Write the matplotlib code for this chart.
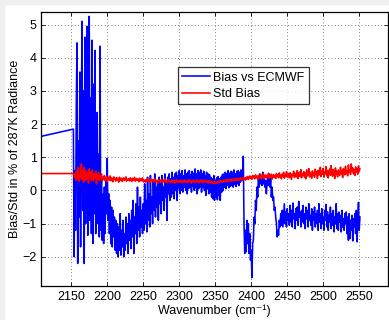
import numpy as np
import matplotlib
matplotlib.use("Agg")
import matplotlib.pyplot as plt
from matplotlib.patches import Rectangle

plt.rcParams["font.family"] = ["Liberation Sans", "DejaVu Sans"]

# leading point (left of the measured band), then 1 cm-1 grid 2153..2551
wn_start = 2108
bias_start = 1.63
std_start = 0.51
wn = np.arange(2153, 2552)

bias = [
    1.85, -2.0, 0.6, -1.2, 2.5, 4.45, -2.2, 1.5, -0.8, 3.57,
    -1.7, 2.2, 5.1, -0.6, 3.0, -2.2, 4.62, -1.0, 3.4, 4.95,
    -1.35, 3.8, 5.25, -0.9, 2.8, -1.3, 4.53, -1.6, 3.2, -0.7,
    4.22, -1.3, 1.3, 2.35, -1.0, 1.1, -1.4, 4.35, -1.2, 0.4,
    -1.5, -0.1, -1.6, 0.1, -1.3, 0.3, -0.7, 0.97, -0.9, -0.1,
    -1.3, -0.3, -1.6, -0.5, -1.7, -0.6, -1.4, -0.8, -1.8, -0.9,
    -1.9, -1.0, -2.0, -1.1, -1.8, -0.7, -1.95, -1.2, -1.7, -0.9,
    -2.0, -1.3, -1.8, -0.8, -1.6, -1.0, -1.9, -0.7, -1.5, -0.9,
    -1.75, -0.6, -1.4, -0.3, -1.9, -0.8, -1.3, -0.4, -1.6, 0.1,
    -1.2, -0.5, -1.4, -0.2, -1.1, -0.6, -1.3, -0.4, -1.2, 0.2,
    -1.0, -0.3, -1.25, 0.4, -0.9, -0.1, -1.1, 0.45, -0.7, -0.2,
    -1.0, 0.3, -0.6, 0.5, -0.8, 0.1, -0.5, 0.3, -0.9, 0.4,
    -0.4, 0.2, -0.7, 0.45, -0.3, 0.1, -0.6, 0.5, -0.2, 0.3,
    -0.9, 0.4, -0.1, 0.5, -0.3, 0.35, -0.2, 0.55, -0.1, 0.4,
    -0.25, 0.5, 0.0, 0.55, -0.3, 0.45, 0.05, 0.6, -0.1, 0.5,
    0.0, 0.6, -0.05, 0.45, 0.1, 0.62, 0.0, 0.5, -0.1, 0.55,
    0.05, 0.6, 0.1, 0.48, -0.05, 0.58, 0.12, 0.52, 0.0, 0.65,
    0.08, 0.5, -0.1, 0.6, 0.05, 0.55, 0.1, 0.62, -0.05, 0.5,
    0.1, 0.58, 0.0, 0.45, -0.15, 0.55, 0.05, 0.5, -0.1, 0.48,
    -0.05, 0.4, -0.2, 0.35, -0.25, 0.45, -0.3, 0.3, -0.2, 0.38,
    -0.28, 0.42, -0.15, 0.35, -0.3, 0.4, -0.05, 0.48, 0.0, 0.5,
    0.1, 0.55, 0.05, 0.5, 0.15, 0.6, 0.08, 0.52, 0.12, 0.58,
    0.15, 0.55, 0.1, 0.62, 0.18, 0.5, 0.12, 0.58, 0.2, 0.6,
    0.15, 0.55, 0.25, 0.62, 0.3, 0.5, 1.03, -1.0, -1.9, -1.2,
    -1.85, -0.9, -1.6, -1.0, -1.9, -1.3, -2.1, -1.8, -2.63, -1.6,
    -1.5, -0.8, -1.0, -0.3, -0.6, 0.1, -0.2, 0.4, 0.1, 0.5,
    0.2, 0.45, 0.15, 0.55, 0.2, 0.4, 0.1, 0.3, -0.1, 0.2,
    0.45, 0.15, 0.5, 0.1, 0.35, -0.2, 0.1, -0.3, -0.2, -0.6,
    -0.5, -0.8, -1.0, -1.4, -1.2, -1.35, -0.9, -1.1, -0.7, -1.05,
    -0.6, -1.1, -0.75, -0.4, -1.0, -0.65, -1.1, -0.55, -0.9, -0.7,
    -1.05, -0.45, -0.95, -0.6, -1.1, -0.38, -0.85, -0.7, -1.15, -0.55,
    -0.9, -0.5, -1.05, -0.33, -0.8, -0.65, -1.1, -0.6, -0.95, -0.45,
    -1.0, -0.7, -1.15, -0.5, -0.85, -0.6, -1.1, -0.4, -0.9, -0.75,
    -1.05, -0.55, -1.2, -0.65, -0.9, -0.5, -1.1, -0.7, -1.0, -0.6,
    -1.2, -0.4, -0.95, -0.7, -1.15, -0.55, -1.0, -0.8, -1.2, -0.6,
    -0.9, -0.42, -1.1, -0.65, -1.2, -0.75, -0.95, -0.5, -1.15, -0.7,
    -1.05, -0.6, -1.25, -0.8, -1.0, -0.4, -1.15, -0.7, -1.2, -0.65,
    -0.95, -0.75, -1.25, -0.6, -1.1, -0.85, -1.2, -0.7, -1.0, -0.65,
    -1.3, -0.8, -1.5, -0.7, -1.45, -0.9, -1.2, -0.75, -1.52, -0.85,
    -1.1, -0.7, -1.3, -0.6, -1.55, -0.9, -0.36, -1.2, -0.8,
]

std_bias = [
    0.51, 0.45, 0.38, 0.55, 0.30, 0.62, 0.35, 0.70, 0.28, 0.48,
    0.40, 0.80, 0.33, 0.58, 0.25, 0.70, 0.42, 0.30, 0.60, 0.36,
    0.52, 0.22, 0.65, 0.40, 0.55, 0.30, 0.62, 0.45, 0.28, 0.50,
    0.38, 0.58, 0.20, 0.46, 0.35, 0.55, 0.30, 0.44, 0.36, 0.50,
    0.28, 0.40, 0.33, 0.45, 0.30, 0.38, 0.42, 0.27, 0.36, 0.40,
    0.31, 0.44, 0.29, 0.38, 0.35, 0.26, 0.41, 0.33, 0.37, 0.28,
    0.39, 0.32, 0.36, 0.25, 0.40, 0.34, 0.30, 0.37, 0.27, 0.35,
    0.38, 0.30, 0.33, 0.41, 0.28, 0.34, 0.31, 0.36, 0.29, 0.38,
    0.32, 0.27, 0.37, 0.30, 0.35, 0.40, 0.28, 0.33, 0.36, 0.30,
    0.34, 0.26, 0.37, 0.31, 0.29, 0.35, 0.38, 0.27, 0.32, 0.30,
    0.25, 0.33, 0.29, 0.36, 0.27, 0.31, 0.24, 0.34, 0.28, 0.30,
    0.33, 0.26, 0.29, 0.35, 0.25, 0.31, 0.28, 0.22, 0.32, 0.27,
    0.30, 0.25, 0.33, 0.28, 0.24, 0.31, 0.27, 0.34, 0.26, 0.29,
    0.23, 0.30, 0.27, 0.32, 0.25, 0.28, 0.31, 0.24, 0.29, 0.26,
    0.30, 0.22, 0.28, 0.33, 0.25, 0.27, 0.30, 0.24, 0.29, 0.26,
    0.31, 0.23, 0.28, 0.26, 0.32, 0.25, 0.29, 0.27, 0.24, 0.30,
    0.26, 0.33, 0.25, 0.28, 0.22, 0.30, 0.27, 0.31, 0.24, 0.28,
    0.29, 0.25, 0.32, 0.27, 0.23, 0.30, 0.26, 0.29, 0.33, 0.25,
    0.28, 0.24, 0.30, 0.27, 0.31, 0.25, 0.29, 0.22, 0.27, 0.30,
    0.25, 0.28, 0.23, 0.26, 0.20, 0.24, 0.27, 0.21, 0.25, 0.22,
    0.26, 0.23, 0.28, 0.24, 0.30, 0.26, 0.29, 0.25, 0.31, 0.27,
    0.30, 0.26, 0.33, 0.28, 0.31, 0.27, 0.34, 0.29, 0.32, 0.28,
    0.35, 0.30, 0.33, 0.29, 0.36, 0.31, 0.34, 0.30, 0.37, 0.32,
    0.35, 0.31, 0.38, 0.33, 0.36, 0.32, 0.39, 0.34, 0.37, 0.31,
    0.40, 0.35, 0.42, 0.33, 0.39, 0.44, 0.36, 0.41, 0.34, 0.45,
    0.38, 0.43, 0.35, 0.47, 0.39, 0.42, 0.33, 0.46, 0.40, 0.37,
    0.48, 0.36, 0.44, 0.40, 0.50, 0.35, 0.43, 0.47, 0.38, 0.45,
    0.41, 0.52, 0.37, 0.46, 0.40, 0.49, 0.34, 0.44, 0.48, 0.39,
    0.45, 0.36, 0.51, 0.42, 0.47, 0.38, 0.53, 0.41, 0.46, 0.35,
    0.49, 0.43, 0.55, 0.37, 0.48, 0.42, 0.57, 0.40, 0.46, 0.51,
    0.38, 0.54, 0.44, 0.33, 0.50, 0.45, 0.58, 0.39, 0.47, 0.52,
    0.41, 0.60, 0.36, 0.49, 0.55, 0.42, 0.63, 0.38, 0.51, 0.46,
    0.57, 0.40, 0.53, 0.35, 0.62, 0.44, 0.50, 0.66, 0.41, 0.55,
    0.47, 0.37, 0.59, 0.45, 0.52, 0.40, 0.64, 0.48, 0.56, 0.36,
    0.61, 0.46, 0.53, 0.70, 0.42, 0.58, 0.49, 0.67, 0.40, 0.55,
    0.50, 0.72, 0.44, 0.60, 0.38, 0.57, 0.65, 0.46, 0.75, 0.52,
    0.43, 0.63, 0.55, 0.36, 0.68, 0.48, 0.58, 0.41, 0.62, 0.53,
    0.45, 0.70, 0.50, 0.60, 0.39, 0.66, 0.54, 0.47, 0.73, 0.51,
    0.58, 0.44, 0.77, 0.55, 0.63, 0.48, 0.80, 0.57, 0.68, 0.50,
    0.62, 0.45, 0.71, 0.56, 0.66, 0.49, 0.74, 0.58, 0.65,
]

x_all = np.concatenate([[wn_start], wn])
bias_all = np.concatenate([[bias_start], bias])
std_all = np.concatenate([[std_start], std_bias])

fig = plt.figure(figsize=(3.89, 3.2), dpi=100)
fig.patch.set_facecolor("white")
# light grey frame of the screenshot
fig.patches.append(Rectangle((0, 0), 4 / 389, 1, transform=fig.transFigure,
                             color="#efefef", zorder=-1))
fig.patches.append(Rectangle((0, 1 - 4 / 320), 1, 4 / 320, transform=fig.transFigure,
                             color="#efefef", zorder=-1))

ax = fig.add_axes([41 / 389, 1 - 286 / 320, 347 / 389, 274 / 320])

ax.plot(x_all, bias_all, color=(0, 0, 1), lw=1.15, label="Bias vs ECMWF")
ax.plot(x_all, std_all, color=(1, 0, 0), lw=1.15, label="Std Bias")

ax.set_xlim(2108, 2590)
ax.set_ylim(-2.88, 5.38)
ax.set_xticks(np.arange(2150, 2551, 50))
ax.set_yticks(np.arange(-2, 6, 1))
ax.set_yticklabels(["\u22122", "\u22121", "0", "1", "2", "3", "4", "5"])

ax.grid(True, linestyle=(0, (1, 3)), color="#555555", lw=0.6)
ax.tick_params(direction="in", length=3, width=0.6, top=True, right=True,
               labelsize=9)
ax.tick_params(axis="x", pad=3.5)
ax.tick_params(axis="y", pad=3)
for s in ax.spines.values():
    s.set_linewidth(0.9)

ax.set_xlabel("Wavenumber (cm\u207b\u00b9)", fontsize=9, labelpad=1)
ax.set_ylabel("Bias/Std in % of 287K Radiance", fontsize=9, labelpad=1)

leg = ax.legend(loc="upper left", bbox_to_anchor=(0.394, 0.798),
                borderaxespad=0, fontsize=9, frameon=True, fancybox=False,
                handlelength=2.2, handletextpad=0.3, borderpad=0.35,
                labelspacing=0.35)
leg.get_frame().set_edgecolor("black")
leg.get_frame().set_linewidth(0.9)

fig.savefig("out.png", dpi=100, facecolor=fig.get_facecolor())
